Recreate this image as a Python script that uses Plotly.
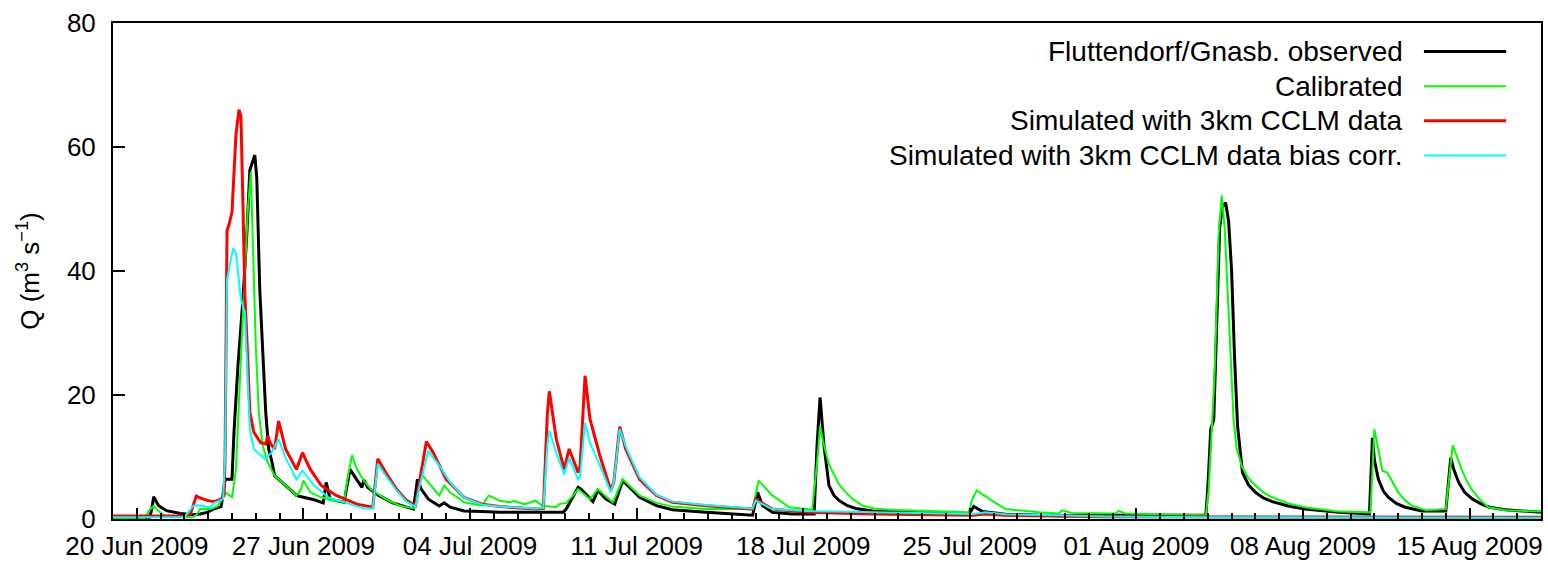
import pandas as pd
import plotly.graph_objects as go

# Hourly discharge at Fluttendorf/Gnasbach, summer 2009.
# Time is given in hours after 2009-06-19 00:00.
START = pd.Timestamp("2009-06-19 00:00")

obs_hours = [0, 37, 39, 41, 46, 54, 68, 81, 88, 95, 101, 109, 111, 113, 120, 122, 126, 131, 135,
             138, 143, 145, 148, 151, 154, 157, 160, 163, 174, 185, 192, 203, 212, 215, 219, 233,
             239, 246, 251, 253, 257, 268, 282, 303, 307, 311, 318, 329, 334, 340, 354, 372, 390,
             430, 454, 457, 469, 472, 484, 489, 497, 506, 514, 521, 531, 548, 564, 598, 645, 650,
             655, 665, 685, 707, 710, 713, 717, 722, 727, 732, 740, 749, 766, 800, 833, 863, 868,
             877, 900, 954, 1000, 1102, 1104, 1107, 1110, 1113, 1116, 1119, 1122, 1125, 1128,
             1131, 1134, 1139, 1145, 1152, 1160, 1169, 1185, 1202, 1236, 1267, 1270, 1272, 1276,
             1281, 1286, 1294, 1303, 1320, 1344, 1349, 1352, 1357, 1363, 1371, 1380, 1388, 1404,
             1440]
obs_q = [0.3, 0.3, 1.5, 3.6, 2.15, 1.34, 0.9, 0.7, 0.8, 1.07, 1.6, 2.0, 4.0, 6.4, 6.4, 14, 24.7,
         35.4, 46.1, 56.3, 58.7, 55, 37, 27.9, 17.2, 11.3, 9.4, 7.0, 5.4, 3.8, 3.5, 3.1, 2.6, 5.9,
         3.2, 2.7, 8.0, 6.4, 5.1, 6.3, 5.1, 3.8, 2.6, 1.6, 6.4, 4.8, 3.2, 2.1, 2.6, 1.9, 1.3, 1.2,
         1.1, 1.07, 1.07, 1.6, 5.1, 4.8, 2.8, 4.6, 3.2, 2.4, 6.2, 5.1, 3.5, 2.15, 1.5, 1.07, 0.6,
         4.3, 2.15, 1.07, 0.8, 0.8, 12, 19.6, 11.8, 5.4, 3.8, 3.0, 2.2, 1.7, 1.3, 1.07, 0.9, 0.75,
         2.0, 1.2, 0.75, 0.54, 0.6, 0.6, 5, 14.5, 16, 32, 47, 50.5, 51, 48, 40, 26, 15, 7.5, 5.5,
         4.3, 3.4, 2.8, 2.1, 1.6, 1.07, 0.8, 13.1, 9.5, 6.4, 4.5, 3.5, 2.5, 1.9, 1.3, 1.3, 9.9,
         8.0, 5.9, 4.3, 3.2, 2.4, 1.9, 1.5, 1.07]

cal_hours = [0, 32, 37, 41, 45, 53, 80, 84, 88, 99, 106, 113, 120, 124, 131, 136, 139, 142, 144,
             147, 151, 156, 163, 174, 185, 189, 192, 199, 210, 224, 233, 237, 241, 246, 253, 260,
             275, 289, 304, 307, 311, 318, 329, 334, 340, 354, 372, 379, 390, 401, 404, 415, 426,
             433, 447, 450, 457, 464, 469, 481, 489, 504, 514, 531, 548, 564, 598, 645, 651, 665,
             682, 705, 710, 713, 716, 719, 722, 726, 732, 739, 746, 756, 768, 783, 833, 863, 866,
             871, 884, 900, 934, 954, 957, 967, 1011, 1014, 1021, 1102, 1105, 1111, 1115, 1118,
             1121, 1124, 1127, 1130, 1133, 1138, 1145, 1152, 1160, 1169, 1185, 1202, 1236, 1268,
             1272, 1276, 1280, 1285, 1290, 1296, 1303, 1310, 1324, 1344, 1351, 1355, 1360, 1365,
             1370, 1378, 1387, 1404, 1440]
cal_q = [0.2, 0.2, 1.5, 2.1, 1.4, 0.4, 0.3, 0.6, 1.6, 1.6, 2.1, 4.3, 3.5, 8, 33.3, 50, 56, 37,
         27.9, 17.2, 11.8, 9.1, 7.0, 5.4, 3.8, 4.6, 6.2, 4.3, 3.5, 2.9, 2.8, 7, 10.3, 8.0, 6.2,
         4.8, 3.2, 2.15, 1.7, 4, 7.2, 5.9, 3.8, 5.4, 4.3, 2.7, 2.15, 3.8, 2.95, 2.7, 2.95, 2.4,
         2.95, 2.15, 1.9, 2.4, 2.6, 3.8, 4.8, 3.2, 4.8, 2.7, 6.4, 3.8, 2.6, 2.0, 1.6, 1.6, 6.2,
         3.8, 1.9, 1.5, 9, 15.0, 12.5, 10.7, 8.8, 7.5, 5.6, 4.3, 3.2, 2.15, 1.7, 1.5, 1.2, 1.07,
         3.0, 4.6, 3.2, 1.6, 1.07, 0.9, 1.4, 0.97, 0.9, 1.3, 0.9, 0.6, 5, 24, 46, 52.2, 47, 37,
         26, 16, 11.5, 8.6, 6.6, 5.4, 4.3, 3.5, 2.5, 1.9, 1.2, 1.07, 14.5, 11, 7.8, 7.5, 6, 4.3,
         3.0, 2.15, 1.4, 1.6, 11.9, 10, 8.0, 6.2, 4.8, 3.2, 1.9, 1.4, 1.2]

sim_hours = [0, 70, 78, 84, 88, 95, 102, 109, 112, 113, 115, 117, 120, 124, 127, 129, 131, 133,
             135, 138, 142, 149, 154, 156, 159, 163, 167, 174, 185, 191, 199, 210, 225, 246, 262,
             267, 275, 286, 296, 305, 308, 316, 323, 336, 354, 372, 390, 426, 434, 438, 440, 447,
             455, 460, 469, 471, 476, 481, 491, 502, 505, 511, 517, 531, 548, 564, 598, 645, 648,
             665, 699, 766, 867, 880, 900, 954, 1000, 1440]
sim_q = [0.5, 0.5, 0.8, 3.7, 3.4, 3.0, 2.8, 3.2, 3.8, 10, 46.5, 47.5, 49.5, 62, 66, 65, 51, 36,
         29, 17.2, 14.0, 12.3, 12.1, 13.4, 12.1, 11.3, 15.8, 11.3, 8.0, 10.7, 8.0, 5.4, 3.8, 2.4,
         1.9, 9.7, 7.5, 4.8, 3.0, 2.15, 5, 12.5, 10.7, 6.4, 3.5, 2.4, 2.0, 1.6, 1.7, 17, 20.6,
         12.9, 8.0, 11.3, 7.5, 8.5, 23.1, 16.1, 10.2, 4.6, 6, 14.9, 11.3, 6.4, 3.8, 2.7, 2.15, 1.6,
         3.2, 1.6, 1.07, 0.8, 0.6, 0.8, 0.6, 0.43, 0.35, 0.3]

bias_hours = [0, 70, 73, 81, 85, 98, 102, 111, 113, 115, 121, 124, 129, 133, 138, 142, 153, 160,
              167, 174, 185, 191, 203, 217, 239, 253, 262, 267, 275, 286, 296, 305, 308, 318, 329,
              340, 354, 372, 390, 426, 434, 438, 440, 447, 455, 460, 469, 471, 476, 481, 491, 502,
              505, 511, 518, 531, 548, 564, 598, 645, 648, 665, 699, 766, 867, 880, 900, 954, 1000,
              1100, 1440]
bias_q = [0.3, 0.3, 0.5, 2.15, 2.2, 1.9, 2.6, 3.2, 10, 38.6, 43.7, 42.9, 35.4, 33.3, 14.5, 11.3,
          9.7, 10.7, 12.9, 9.9, 6.4, 7.8, 5.4, 3.5, 2.4, 1.7, 1.7, 8.9, 7.0, 4.6, 2.8, 2.0, 4.5,
          11.0, 8.6, 5.9, 3.5, 2.3, 2.0, 1.7, 1.8, 12, 14.2, 10.7, 7.2, 9.9, 6.4, 6.8, 15.5, 12.3,
          8.6, 4.3, 6, 14.5, 11.3, 6.7, 3.9, 2.8, 2.25, 1.7, 2.95, 1.6, 1.3, 1.07, 0.8, 1.07, 0.75,
          0.6, 0.4, 0.3, 0.2]

series_names = [
    "Fluttendorf/Gnasb. observed",
    "Calibrated",
    "Simulated with 3km CCLM data",
    "Simulated with 3km CCLM data bias corr.",
]
series_hours = [obs_hours, cal_hours, sim_hours, bias_hours]
series_q = [obs_q, cal_q, sim_q, bias_q]
series_colors = ["#000000", "#00ff00", "#ff0000", "#00ffff"]
series_widths = [3, 2, 3, 2]

FONT = "Liberation Sans, Arial, Helvetica, sans-serif"

fig = go.Figure()
for name, hrs, q, color, width in zip(series_names, series_hours, series_q,
                                      series_colors, series_widths):
    t = START + pd.to_timedelta(hrs, unit="h")
    fig.add_trace(go.Scatter(x=t, y=q, mode="lines", name=name, showlegend=False,
                             line=dict(color=color, width=width)))

# Key: right-aligned labels with the line sample to their right
key_top, key_step = 0.9423, 0.0698
for i, (name, color, width) in enumerate(zip(series_names, series_colors, series_widths)):
    yk = key_top - i * key_step
    fig.add_annotation(xref="paper", yref="paper", x=0.905, y=yk, text=name,
                       xanchor="right", yanchor="middle", showarrow=False,
                       font=dict(family=FONT, size=28, color="black"))
    fig.add_shape(type="line", xref="paper", yref="paper", x0=0.918, x1=0.9756,
                  y0=yk, y1=yk, line=dict(color=color, width=width))

fig.update_layout(
    width=1548, height=566,
    margin=dict(l=113, r=5, t=23, b=46),
    paper_bgcolor="white", plot_bgcolor="white",
    font=dict(family=FONT, size=26, color="black"),
    xaxis=dict(
        type="date",
        range=[START, START + pd.Timedelta(days=60)],
        tick0="2009-06-20", dtick=7 * 86400000, tickformat="%d %b %Y",
        ticks="inside", ticklen=11, tickwidth=1.5, tickcolor="black",
        ticklabelstandoff=3,
        minor=dict(ticks="inside", dtick=86400000, tick0="2009-06-19",
                   ticklen=6, tickwidth=1.5, tickcolor="black", showgrid=False),
        showline=True, linecolor="black", linewidth=2, mirror=True,
        showgrid=False, zeroline=False,
        tickfont=dict(size=26),
    ),
    yaxis=dict(
        range=[0, 80], tick0=0, dtick=20,
        ticks="inside", ticklen=12, tickwidth=1.5, tickcolor="black",
        ticklabelstandoff=10,
        showline=True, linecolor="black", linewidth=2, mirror=True,
        showgrid=False, zeroline=False,
        tickfont=dict(size=26),
        title=dict(text="Q (m<sup>3</sup> s<sup>\u22121</sup>)", font=dict(size=26), standoff=20),
    ),
)

fig.write_html("out.html")
